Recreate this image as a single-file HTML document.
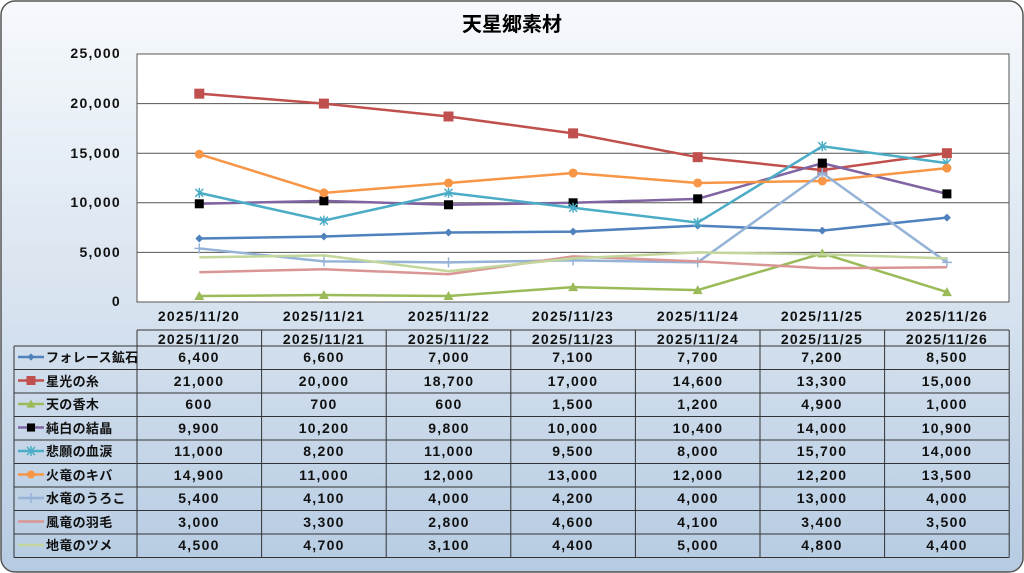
<!DOCTYPE html>
<html><head><meta charset="utf-8">
<style>
html,body{margin:0;padding:0;width:1024px;height:573px;overflow:hidden;background:#fff}
svg{display:block;font-family:"Liberation Sans","Noto Sans CJK JP",sans-serif}
.t{font-size:14px;font-weight:bold;fill:#111;letter-spacing:1.3px}
.j{font-size:13px;font-weight:bold;fill:#111;letter-spacing:0.3px}
</style></head><body>
<svg id="s" width="1024" height="573" viewBox="0 0 1024 573">
<defs>
<linearGradient id="bg" x1="0" y1="0" x2="0" y2="1">
<stop offset="0" stop-color="#f6f9fc"/><stop offset="0.5" stop-color="#d9e4f0"/><stop offset="1" stop-color="#b6cbe2"/>
</linearGradient>
</defs>
<rect x="1" y="1" width="1022" height="571" rx="14" fill="url(#bg)" stroke="#555" stroke-width="1.5"/>
<text x="512" y="31" text-anchor="middle" style="font-size:20px;font-weight:bold" fill="#000">天星郷素材</text>
<rect x="137" y="54" width="872" height="248" fill="#fff" stroke="#555"/>
<g stroke="#555" stroke-width="1">
<line x1="137" y1="103.6" x2="1009" y2="103.6"/><line x1="137" y1="153.2" x2="1009" y2="153.2"/>
<line x1="137" y1="202.8" x2="1009" y2="202.8"/><line x1="137" y1="252.4" x2="1009" y2="252.4"/>
</g>
<g text-anchor="end">
<text x="121" y="58" class="t">25,000</text><text x="121" y="108" class="t">20,000</text>
<text x="121" y="158" class="t">15,000</text><text x="121" y="207" class="t">10,000</text>
<text x="121" y="257" class="t">5,000</text><text x="121" y="306" class="t">0</text>
</g>
<g text-anchor="middle">
<text x="199" y="321" class="t">2025/11/20</text><text x="324" y="321" class="t">2025/11/21</text>
<text x="449" y="321" class="t">2025/11/22</text><text x="573" y="321" class="t">2025/11/23</text>
<text x="698" y="321" class="t">2025/11/24</text><text x="822" y="321" class="t">2025/11/25</text>
<text x="947" y="321" class="t">2025/11/26</text>
</g>
<g id="lines"></g>
<g id="tbl" stroke="#333" stroke-width="1" fill="none"></g>
<g text-anchor="middle">
<text x="199" y="344" class="t">2025/11/20</text><text x="324" y="344" class="t">2025/11/21</text>
<text x="449" y="344" class="t">2025/11/22</text><text x="573" y="344" class="t">2025/11/23</text>
<text x="698" y="344" class="t">2025/11/24</text><text x="822" y="344" class="t">2025/11/25</text>
<text x="947" y="344" class="t">2025/11/26</text>
</g>
<g>
<text x="46" y="362" class="j">フォレース鉱石</text>
<text x="46" y="386" class="j">星光の糸</text>
<text x="46" y="409" class="j">天の香木</text>
<text x="46" y="433" class="j">純白の結晶</text>
<text x="46" y="456" class="j">悲願の血涙</text>
<text x="46" y="480" class="j">火竜のキバ</text>
<text x="46" y="503" class="j">水竜のうろこ</text>
<text x="46" y="527" class="j">風竜の羽毛</text>
<text x="46" y="550" class="j">地竜のツメ</text>
</g>
<g text-anchor="middle">
<text x="199" y="362" class="t">6,400</text><text x="324" y="362" class="t">6,600</text><text x="449" y="362" class="t">7,000</text><text x="573" y="362" class="t">7,100</text><text x="698" y="362" class="t">7,700</text><text x="822" y="362" class="t">7,200</text><text x="947" y="362" class="t">8,500</text>
<text x="199" y="386" class="t">21,000</text><text x="324" y="386" class="t">20,000</text><text x="449" y="386" class="t">18,700</text><text x="573" y="386" class="t">17,000</text><text x="698" y="386" class="t">14,600</text><text x="822" y="386" class="t">13,300</text><text x="947" y="386" class="t">15,000</text>
<text x="199" y="409" class="t">600</text><text x="324" y="409" class="t">700</text><text x="449" y="409" class="t">600</text><text x="573" y="409" class="t">1,500</text><text x="698" y="409" class="t">1,200</text><text x="822" y="409" class="t">4,900</text><text x="947" y="409" class="t">1,000</text>
<text x="199" y="433" class="t">9,900</text><text x="324" y="433" class="t">10,200</text><text x="449" y="433" class="t">9,800</text><text x="573" y="433" class="t">10,000</text><text x="698" y="433" class="t">10,400</text><text x="822" y="433" class="t">14,000</text><text x="947" y="433" class="t">10,900</text>
<text x="199" y="456" class="t">11,000</text><text x="324" y="456" class="t">8,200</text><text x="449" y="456" class="t">11,000</text><text x="573" y="456" class="t">9,500</text><text x="698" y="456" class="t">8,000</text><text x="822" y="456" class="t">15,700</text><text x="947" y="456" class="t">14,000</text>
<text x="199" y="480" class="t">14,900</text><text x="324" y="480" class="t">11,000</text><text x="449" y="480" class="t">12,000</text><text x="573" y="480" class="t">13,000</text><text x="698" y="480" class="t">12,000</text><text x="822" y="480" class="t">12,200</text><text x="947" y="480" class="t">13,500</text>
<text x="199" y="503" class="t">5,400</text><text x="324" y="503" class="t">4,100</text><text x="449" y="503" class="t">4,000</text><text x="573" y="503" class="t">4,200</text><text x="698" y="503" class="t">4,000</text><text x="822" y="503" class="t">13,000</text><text x="947" y="503" class="t">4,000</text>
<text x="199" y="527" class="t">3,000</text><text x="324" y="527" class="t">3,300</text><text x="449" y="527" class="t">2,800</text><text x="573" y="527" class="t">4,600</text><text x="698" y="527" class="t">4,100</text><text x="822" y="527" class="t">3,400</text><text x="947" y="527" class="t">3,500</text>
<text x="199" y="550" class="t">4,500</text><text x="324" y="550" class="t">4,700</text><text x="449" y="550" class="t">3,100</text><text x="573" y="550" class="t">4,400</text><text x="698" y="550" class="t">5,000</text><text x="822" y="550" class="t">4,800</text><text x="947" y="550" class="t">4,400</text>
</g>
</svg>
<script>
var NS="http://www.w3.org/2000/svg";
function el(p,n,a){var e=document.createElementNS(NS,n);for(var k in a)e.setAttribute(k,a[k]);p.appendChild(e);return e;}
var S=[
["#4f81bd","dia",[6400,6600,7000,7100,7700,7200,8500]],
["#c0504d","sq",[21000,20000,18700,17000,14600,13300,15000]],
["#9bbb59","tri",[600,700,600,1500,1200,4900,1000]],
["#8064a2","bsq",[9900,10200,9800,10000,10400,14000,10900]],
["#4bacc6","star",[11000,8200,11000,9500,8000,15700,14000]],
["#f79646","circ",[14900,11000,12000,13000,12000,12200,13500]],
["#95b3d7","plus",[5400,4100,4000,4200,4000,13000,4000]],
["#d99694","none",[3000,3300,2800,4600,4100,3400,3500]],
["#c3d69b","none",[4500,4700,3100,4400,5000,4800,4400]]];
var L=document.getElementById("lines");
function mk(g,t,c,x,y,s){
 if(t=="dia")el(g,"polygon",{points:(x)+","+(y-4*s)+" "+(x+4*s)+","+y+" "+x+","+(y+4*s)+" "+(x-4*s)+","+y,fill:c});
 else if(t=="sq")el(g,"rect",{x:x-5*s,y:y-5*s,width:10*s,height:10*s,fill:c});
 else if(t=="bsq")el(g,"rect",{x:x-4.5*s,y:y-4.5*s,width:9*s,height:9*s,fill:"#000"});
 else if(t=="tri")el(g,"polygon",{points:x+","+(y-5*s)+" "+(x+5*s)+","+(y+4*s)+" "+(x-5*s)+","+(y+4*s),fill:c});
 else if(t=="circ")el(g,"circle",{cx:x,cy:y,r:4.5*s,fill:c});
 else if(t=="star"){var d="M"+(x-4)+" "+(y-4)+"L"+(x+4)+" "+(y+4)+"M"+(x+4)+" "+(y-4)+"L"+(x-4)+" "+(y+4)+"M"+x+" "+(y-5)+"L"+x+" "+(y+5);el(g,"path",{d:d,stroke:c,"stroke-width":1.5});}
 else if(t=="plus"){el(g,"path",{d:"M"+(x-5)+" "+y+"L"+(x+5)+" "+y+"M"+x+" "+(y-5)+"L"+x+" "+(y+5),stroke:c,"stroke-width":1.5});}
}
S.forEach(function(s,i){
 var pts=s[2].map(function(v,j){return [199.3+124.6*j,302-v*0.00992];});
 el(L,"polyline",{points:pts.map(function(p){return p.join(",")}).join(" "),fill:"none",stroke:s[0],"stroke-width":2.5});
 pts.forEach(function(p){mk(L,s[1],s[0],p[0],p[1],1);});
 var y=357+23.5*i;
 el(L,"line",{x1:18,y1:y,x2:44,y2:y,stroke:s[0],"stroke-width":2.5});
 mk(L,s[1],s[0],31,y,0.9);
});
var T=document.getElementById("tbl");
el(T,"line",{x1:137,y1:330,x2:1009,y2:330});
for(var r=0;r<=9;r++){var y=346+23.5*r;el(T,"line",{x1:14,y1:y,x2:1009,y2:y});}
el(T,"line",{x1:14,y1:346,x2:14,y2:557.5});
for(var c=0;c<=7;c++){var x=137+124.6*c;el(T,"line",{x1:x,y1:330,x2:x,y2:557.5});}
</script>
</body></html>
